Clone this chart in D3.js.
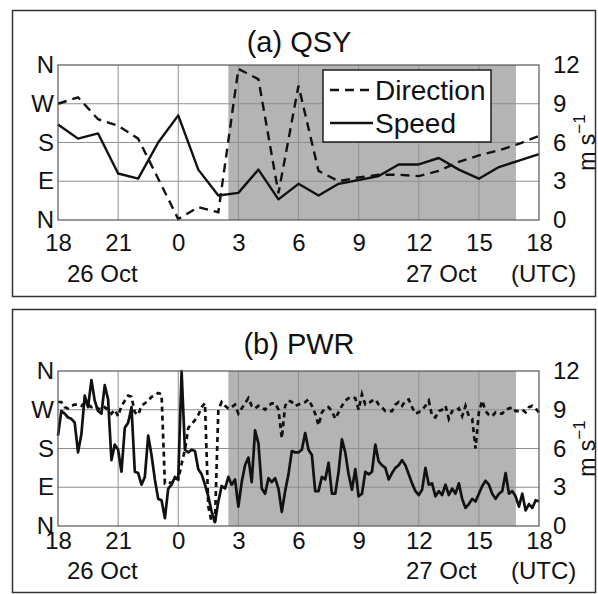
<!DOCTYPE html>
<html>
<head>
<meta charset="utf-8">
<script src="https://cdn.jsdelivr.net/npm/d3@7"></script>
<style>
  body { margin: 0; background: #fff; }
  svg text { font-family: "Liberation Sans", Arial, sans-serif; fill: #111; }
</style>
</head>
<body>
<div class="chart"></div>
<script>
// ----------------------------
// Data (hours after 26 Oct 18 UTC)
// ----------------------------
var xTicks = [0, 3, 6, 9, 12, 15, 18, 21, 24];
var dirTicks = [0, 90, 180, 270, 360];
var dirLabels = ["N", "E", "S", "W", "N"];
var speedTicks = [0, 3, 6, 9, 12];

// night-time shading, hours
var shadeStart = 8.5;
var shadeEnd = 22.85;

// (a) QSY, hourly
var qsyHours = [0, 1, 2, 3, 4, 5, 6, 7, 8, 9, 10, 11, 12, 13, 14, 15, 16, 17, 18, 19, 20, 21, 22, 23, 24];
var qsySpeed = [7.4, 6.3, 6.7, 3.6, 3.2, 6.0, 8.1, 3.9, 1.9, 2.1, 3.9, 1.6, 2.8,
                1.9, 2.8, 3.1, 3.4, 4.3, 4.3, 4.8, 3.9, 3.2, 4.1, 4.6, 5.1];
var qsyDir = [270, 285, 234, 219, 189, 96, 2, 30, 18, 351, 327, 62, 312,
              114, 90, 99, 105, 105, 102, 114, 135, 150, 162, 177, 195];

// (b) PWR, 10-minute samples
var pwrStep = 10 / 60;
var pwrSpeed = [
  7.0, 8.9, 8.7, 8.4, 8.3, 8.0, 5.7, 7.1, 10.1, 9.2,
  11.3, 9.7, 8.9, 8.7, 10.9, 9.8, 5.1, 6.3, 5.9, 4.2,
  7.6, 8.0, 9.2, 4.2, 4.1, 3.2, 3.8, 7.0, 5.5, 3.6,
  2.1, 2.0, 0.6, 2.9, 3.2, 3.8, 3.6,
  12.0, 5.9, 5.7, 5.9, 5.8, 4.4, 4.0, 3.2, 2.3, 1.1,
  0.3, 1.9, 3.1, 2.9, 3.8, 3.2, 3.6, 1.5, 3.4, 4.7,
  5.3, 3.4, 7.4, 6.4, 2.9, 2.5, 3.7, 3.4, 3.7, 2.9,
  1.1, 2.7, 4.0, 5.8, 5.7, 5.7,
  5.9, 7.2, 5.9, 5.5, 2.7, 2.7, 3.8, 3.6, 4.9, 2.5,
  2.5, 4.2, 6.7, 5.7, 4.0, 2.8, 4.4, 2.3, 2.5, 4.2,
  4.0, 4.2, 6.3, 5.0, 4.7, 4.5, 3.6, 4.1, 4.5, 4.7,
  5.1, 4.7, 4.0, 3.3, 2.7, 2.4,
  2.8, 4.5, 3.2, 3.3, 2.3, 2.7, 2.4, 3.2, 2.4, 2.9,
  2.5, 3.3, 2.1, 1.4, 1.7, 2.1, 1.9, 2.5, 3.1, 3.5,
  3.2, 2.5, 2.1, 2.5, 2.7, 4.1, 2.5, 2.7, 2.3, 1.5,
  2.5, 1.2, 1.7, 1.4, 2.0, 1.9
];
var pwrDir = [
  288, 288, 276, 273, 279, 282, 282, 279, 285, 282,
  276, 279, 273, 270, 276, 270, 261, 270, 255, 279,
  291, 303, 300, 264, 258, 279, 285, 291, 300, 303,
  309, 306, 99, 102, 99, 111, 108,
  144, 177, 228, 237, 246, 258, 276, 285, 45, 9,
  12, 270, 288, 279, 273, 276, 282, 261, 273, 285,
  297, 279, 273, 279, 276, 270, 279, 285, 285, 270,
  204, 279, 291, 288, 279, 282,
  285, 288, 294, 279, 261, 234, 264, 273, 276, 267,
  249, 264, 279, 291, 297, 300, 297, 270, 306, 282,
  285, 291, 294, 282, 276, 267, 267, 267, 282, 288,
  279, 291, 294, 276, 261, 264,
  270, 279, 291, 255, 252, 267, 270, 279, 249, 267,
  267, 273, 255, 279, 255, 249, 180, 264, 291, 267,
  258, 255, 264, 261, 261, 270, 273, 276, 267, 267,
  270, 264, 276, 279, 273, 264
];
var pwrHours = pwrSpeed.map((d, i) => i * pwrStep);

// ----------------------------
// Layout
// ----------------------------
var svgWidth = 598;
var svgHeight = 594;
var plotLeft = 58;
var plotRight = 539;

var panels = [
  { title: "(a) QSY", top: 65, bottom: 220, frameTop: 10, frameBottom: 296,
    titleY: 52, tickPad: 14, dateY: 282, dash: "9,6", lineWidth: 2.4,
    hours: qsyHours, speed: qsySpeed, dir: qsyDir, legend: true },
  { title: "(b) PWR", top: 371, bottom: 526, frameTop: 309, frameBottom: 592,
    titleY: 354, tickPad: 6, dateY: 579, dash: "5,4", lineWidth: 2.7,
    hours: pwrHours, speed: pwrSpeed, dir: pwrDir, legend: false }
];

var svg = d3.select(".chart")
  .append("svg")
  .attr("width", svgWidth)
  .attr("height", svgHeight);

var xScale = d3.scaleLinear()
  .domain([0, 24])
  .range([plotLeft, plotRight]);

function drawPanel(p) {
  var g = svg.append("g");

  var ySpeed = d3.scaleLinear().domain([0, 12]).range([p.bottom, p.top]);
  var yDir = d3.scaleLinear().domain([0, 360]).range([p.bottom, p.top]);

  // outer frame
  g.append("rect")
    .attr("x", 12.5)
    .attr("y", p.frameTop + 0.5)
    .attr("width", 583)
    .attr("height", p.frameBottom - p.frameTop)
    .attr("fill", "none")
    .attr("stroke", "#333")
    .attr("stroke-width", 1.5);

  // title
  g.append("text")
    .attr("x", 299)
    .attr("y", p.titleY)
    .attr("text-anchor", "middle")
    .attr("font-size", 29)
    .text(p.title);

  // shaded period
  g.append("rect")
    .attr("x", xScale(shadeStart))
    .attr("y", p.top)
    .attr("width", xScale(shadeEnd) - xScale(shadeStart))
    .attr("height", p.bottom - p.top)
    .attr("fill", "#b4b4b4");

  // grid
  g.selectAll(".vgrid")
    .data(xTicks.slice(1, -1))
    .enter()
    .append("line")
    .attr("x1", d => xScale(d))
    .attr("x2", d => xScale(d))
    .attr("y1", p.top)
    .attr("y2", p.bottom)
    .attr("stroke", "#8f8f8f")
    .attr("stroke-width", 1);

  g.selectAll(".hgrid")
    .data(speedTicks.slice(1, -1))
    .enter()
    .append("line")
    .attr("x1", plotLeft)
    .attr("x2", plotRight)
    .attr("y1", d => ySpeed(d))
    .attr("y2", d => ySpeed(d))
    .attr("stroke", "#8f8f8f")
    .attr("stroke-width", 1);

  // lines
  var dirLine = d3.line()
    .x((d, i) => xScale(p.hours[i]))
    .y(d => yDir(d));

  var speedLine = d3.line()
    .x((d, i) => xScale(p.hours[i]))
    .y(d => ySpeed(d));

  g.append("path")
    .datum(p.dir)
    .attr("d", dirLine)
    .attr("fill", "none")
    .attr("stroke", "#111")
    .attr("stroke-width", p.lineWidth)
    .attr("stroke-dasharray", p.dash);

  g.append("path")
    .datum(p.speed)
    .attr("d", speedLine)
    .attr("fill", "none")
    .attr("stroke", "#111")
    .attr("stroke-width", p.lineWidth)
    .attr("stroke-linejoin", "round");

  // plot border
  g.append("rect")
    .attr("x", plotLeft)
    .attr("y", p.top)
    .attr("width", plotRight - plotLeft)
    .attr("height", p.bottom - p.top)
    .attr("fill", "none")
    .attr("stroke", "#555")
    .attr("stroke-width", 1.2);

  // axes
  var leftAxis = d3.axisLeft(yDir)
    .tickValues(dirTicks)
    .tickFormat((d, i) => dirLabels[i])
    .tickSize(0)
    .tickPadding(4);

  var rightAxis = d3.axisRight(ySpeed)
    .tickValues(speedTicks)
    .tickSize(0)
    .tickPadding(14);

  var bottomAxis = d3.axisBottom(xScale)
    .tickValues(xTicks)
    .tickFormat(d => (18 + d) % 24)
    .tickSize(0)
    .tickPadding(p.tickPad);

  [g.append("g").attr("transform", `translate(${plotLeft},0)`).call(leftAxis),
   g.append("g").attr("transform", `translate(${plotRight},0)`).call(rightAxis),
   g.append("g").attr("transform", `translate(0,${p.bottom})`).call(bottomAxis)
  ].forEach(function(ax) {
    ax.select(".domain").remove();
    ax.selectAll("text")
      .attr("font-size", 24)
      .attr("fill", "#111");
    ax.attr("font-family", null).attr("font-size", null);
  });

  // date labels
  g.append("text").attr("x", 67).attr("y", p.dateY).attr("font-size", 24).text("26 Oct");
  g.append("text").attr("x", 406).attr("y", p.dateY).attr("font-size", 24).text("27 Oct");
  g.append("text").attr("x", 511).attr("y", p.dateY).attr("font-size", 24).text("(UTC)");

  // units on the right
  var unit = g.append("text")
    .attr("transform", `translate(595, ${(p.top + p.bottom) / 2}) rotate(-90)`)
    .attr("text-anchor", "middle")
    .attr("font-size", 23);
  unit.append("tspan").text("m s");
  unit.append("tspan").attr("dy", -10).attr("font-size", 17).text("\u22121");

  // legend
  if (p.legend) {
    var lg = g.append("g");
    lg.append("rect")
      .attr("x", 323)
      .attr("y", 70)
      .attr("width", 168)
      .attr("height", 72)
      .attr("fill", "#fff")
      .attr("stroke", "#111")
      .attr("stroke-width", 1.4);
    lg.append("line")
      .attr("x1", 330).attr("x2", 373).attr("y1", 90).attr("y2", 90)
      .attr("stroke", "#111").attr("stroke-width", 2.4).attr("stroke-dasharray", "9,6");
    lg.append("text").attr("x", 375).attr("y", 100).attr("font-size", 28).text("Direction");
    lg.append("line")
      .attr("x1", 330).attr("x2", 373).attr("y1", 123).attr("y2", 123)
      .attr("stroke", "#111").attr("stroke-width", 2.4);
    lg.append("text").attr("x", 375).attr("y", 133).attr("font-size", 28).text("Speed");
  }
}

panels.forEach(drawPanel);
</script>
</body>
</html>
